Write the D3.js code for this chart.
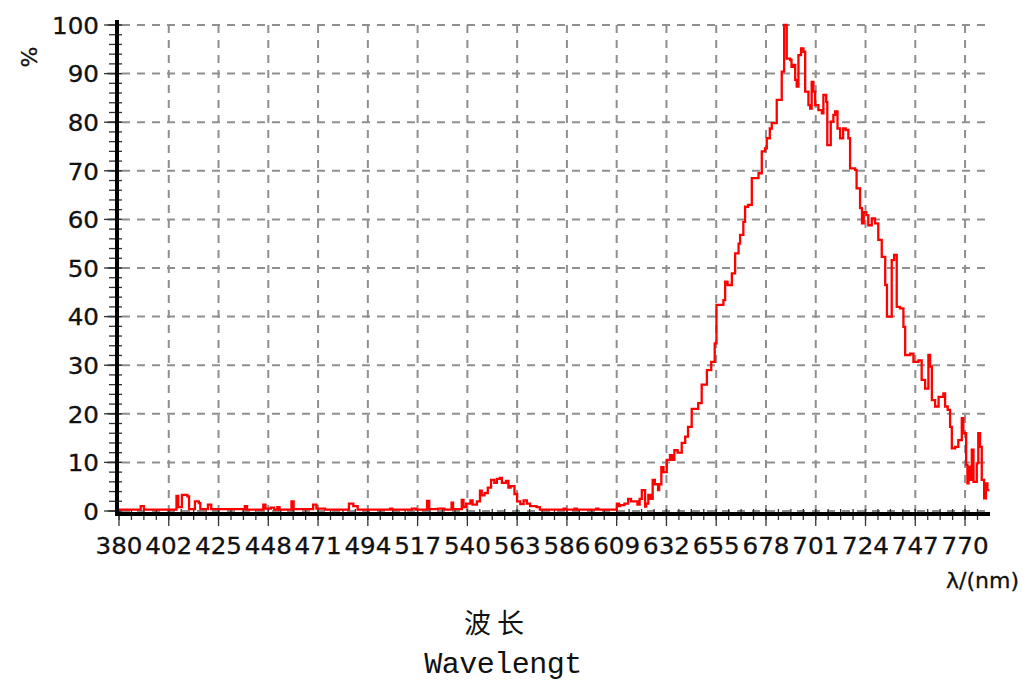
<!DOCTYPE html>
<html>
<head>
<meta charset="utf-8">
<script src="https://cdn.jsdelivr.net/npm/d3@7"></script>
<style>
  body { margin: 0; background: #fff; }
  svg { display: block; }
</style>
</head>
<body>
<svg id="chart" width="1025" height="686"></svg>
<script>
/* spectrum */
var wavelength = [380, 389, 390, 391.5, 406.5, 407.3, 409, 411.5, 412.3, 415, 416.8, 417.5, 421, 422.5,
  438, 439, 446.5, 447.5, 450, 451.5, 453, 454, 459.5, 460.5, 469.5, 471, 475, 486, 488, 490, 505, 506,
  515, 517, 522, 523, 527, 530, 533.3, 534, 538, 538.8, 540, 542, 543, 545, 546.4, 547.2, 548.5, 550,
  551.5, 553, 554.2, 555.6, 556.5, 558.4, 559.5, 560.5, 562.3, 563.5, 565, 566.5, 568, 569.5, 572.5,
  574, 585, 586, 590, 591, 600, 601, 608, 609.5, 610.5, 611, 613, 614.7, 616, 619, 620, 621, 622.5,
  623, 624, 625, 626, 627, 628.5, 629, 630, 631, 632.5, 634, 635, 636, 637.5, 639.4, 641, 642.3, 644,
  647, 648.6, 651, 653, 654.6, 655.4, 658.6, 659.4, 660.5, 662.5, 664, 665.6, 666.3, 667.8, 668.6,
  670, 671.7, 674.8, 676.3, 677.8, 678.6, 680, 680.9, 683.2, 685.5, 686.6, 687.8, 689.4, 690, 691,
  691.7, 692.4, 693.2, 694.4, 695.5, 696.3, 697.8, 698.6, 699.3, 700.1, 700.9, 702.4, 704, 704.7, 706,
  706.5, 708.1, 709.3, 710.1, 711.2, 712.4, 713.8, 715, 716.2, 717, 719.3, 720, 721.6, 722.5, 723.3,
  724.5, 725.4, 727, 728.5, 730, 731.6, 733.2, 734, 736.2, 737.3, 738.5, 740, 741.6, 742.4, 744.7,
  746.2, 748.5, 750, 751.6, 753.1, 753.9, 754.7, 756.2, 757.8, 760, 760.8, 762, 763.1, 763.9, 765.4,
  766.9, 768.5, 769.2, 770.5, 771.1, 771.6, 772.4, 773.1, 773.9, 775.4, 776.1, 776.9, 777.7, 778.8,
  779.6, 780.3, 781.2];
var percent = [0.3, 0.3, 1.0, 0.3, 3.1, 0.8, 3.3, 3.0, 0.4, 2.0, 1.6, 0.4, 1.3, 0.4,
  1.0, 0.3, 1.3, 0.5, 0.7, 0.3, 0.8, 0.3, 2.0, 0.4, 1.3, 0.5, 0.3, 1.5, 1.0, 0.3, 0.5, 0.3,
  0.5, 0.3, 2.1, 0.4, 0.5, 0.3, 1.7, 0.4, 2.3, 0.8, 1.5, 2.2, 1.3, 2.0, 4.2, 3.2, 3.7, 4.8,
  6.4, 5.8, 6.6, 6.8, 5.8, 6.2, 4.8, 5.1, 3.5, 2.0, 1.4, 2.2, 1.5, 1.0, 0.8,
  0.3, 0.5, 0.3, 0.5, 0.3, 0.5, 0.3, 0.3, 1.5, 1.0, 1.2, 1.5, 2.5, 2.0, 1.3, 2.5, 4.3, 0.9,
  1.5, 3.3, 2.5, 6.4, 5.5, 4.3, 5.5, 9.0, 8.0, 10.5, 11.5, 10.5, 12.5, 12.0, 14.0, 15.3, 17.3, 21.0,
  22.2, 26.0, 29.0, 30.7, 34.5, 42.4, 43.4, 47.2, 46.5, 48.9, 53.0, 55.0, 56.8, 59.5, 62.6,
  63.0, 68.5, 69.5, 74.0, 74.6, 76.7, 78.7, 79.8, 84.6, 90.4, 100, 93.1, 92.8, 91.4, 91.8,
  88.7, 87.3, 93.8, 95.2, 94.5, 86.3, 83.5, 82.8, 88.3, 86.3, 83.5, 82.5, 81.8, 85.6, 84.2,
  75.3, 80.1, 81.5, 82.2, 78.7, 76.7, 78.7, 78.4, 76.7, 70.5, 70.2, 66.4, 62.3, 59.2, 61.5,
  60.9, 58.8, 60.2, 59.2, 55.8, 52.3, 46.5, 40.0, 51.6, 52.7, 42.0, 41.7, 37.9, 32.1, 32.4,
  30.7, 31.0, 27.0, 25.2, 32.1, 29.7, 22.8, 21.5, 23.5, 24.2, 21.5, 20.8, 17.3, 12.9, 13.2,
  14.6, 19.1, 16.0, 9.5, 5.7, 9.1, 6.4, 12.6, 6.0, 9.8, 16.0, 13.2, 6.4, 2.6,
  5.7, 4.3, 4.3];

/* axis ticks */
var xTickLabels = ["380", "402", "425", "448", "471", "494", "517", "540", "563", "586",
  "609", "632", "655", "678", "701", "724", "747", "770"];
var yTickValues = [0, 10, 20, 30, 40, 50, 60, 70, 80, 90, 100];

var svg = d3.select("#chart");

var x = d3.scaleLinear().domain([380, 781.5]).range([119, 990]);
var y = d3.scaleLinear().domain([0, 100]).range([511, 25]);

var xStep = 390 / 17;
var xTickPos = xTickLabels.map(function(d, i) { return 380 + i * xStep; });
var xMinor = d3.range(0, 17 * 4 + 3).map(function(i) { return 380 + i * xStep / 4; })
  .filter(function(v) { return v <= 781; });
var yMinor = d3.range(0, 101, 2);

/* grid */
var grid = svg.append("g")
  .attr("stroke", "#8f8f8f")
  .attr("stroke-width", 2)
  .attr("stroke-dasharray", "8,7");

grid.selectAll("line.h").data(yTickValues.slice(1)).enter().append("line")
  .attr("class", "h")
  .attr("x1", 107).attr("x2", 990)
  .attr("y1", function(d) { return y(d); })
  .attr("y2", function(d) { return y(d); });
grid.append("line")
  .attr("x1", 107).attr("x2", 990)
  .attr("y1", y(0)).attr("y2", y(0));

grid.selectAll("line.v").data(xTickPos.slice(1)).enter().append("line")
  .attr("class", "v")
  .attr("y1", y(100)).attr("y2", y(0))
  .attr("x1", function(d) { return x(d); })
  .attr("x2", function(d) { return x(d); });

/* ticks */
var ticks = svg.append("g").attr("stroke", "#333").attr("stroke-width", 1.3);

ticks.selectAll("line.ym").data(yMinor).enter().append("line")
  .attr("x1", 109).attr("x2", 122)
  .attr("y1", function(d) { return y(d); })
  .attr("y2", function(d) { return y(d); });
ticks.selectAll("line.yM").data(yTickValues).enter().append("line")
  .attr("x1", 104).attr("x2", 122)
  .attr("y1", function(d) { return y(d); })
  .attr("y2", function(d) { return y(d); });

ticks.selectAll("line.xm").data(xMinor).enter().append("line")
  .attr("y1", 509).attr("y2", 520)
  .attr("x1", function(d) { return x(d); })
  .attr("x2", function(d) { return x(d); });
ticks.selectAll("line.xM").data(xTickPos).enter().append("line")
  .attr("y1", 509).attr("y2", 526)
  .attr("x1", function(d) { return x(d); })
  .attr("x2", function(d) { return x(d); });

/* spectrum line */
var pts = wavelength.map(function(w, i) { return [w, percent[i]]; });
var line = d3.line()
  .x(function(d) { return x(d[0]); })
  .y(function(d) { return y(d[1]); })
  .curve(d3.curveStepAfter);

svg.append("path")
  .datum(pts)
  .attr("fill", "none")
  .attr("stroke", "#ff0000")
  .attr("stroke-width", 2.3)
  .attr("d", line);

/* axis lines */
svg.append("line")
  .attr("x1", 117).attr("x2", 117)
  .attr("y1", 20).attr("y2", 516)
  .attr("stroke", "#000").attr("stroke-width", 4);
svg.append("line")
  .attr("x1", 115).attr("x2", 990)
  .attr("y1", 514).attr("y2", 514)
  .attr("stroke", "#000").attr("stroke-width", 4);

/* labels: digits in the picture are a little wider, stretch them sideways */
var font = "'DejaVu Sans', sans-serif";
var stretch = 1.07;

svg.selectAll("text.yl").data(yTickValues).enter().append("text")
  .attr("transform", function(d) {
    return "translate(99," + (y(d) + 1) + ") scale(" + stretch + ",1)";
  })
  .attr("text-anchor", "end")
  .attr("dominant-baseline", "central")
  .style("font-family", font).style("font-size", "23px").attr("fill", "#111")
  .attr("stroke", "#111").attr("stroke-width", 0.3)
  .text(function(d) { return d; });

svg.selectAll("text.xl").data(xTickLabels).enter().append("text")
  .attr("transform", function(d, i) {
    return "translate(" + x(xTickPos[i]) + ",554) scale(" + stretch + ",1)";
  })
  .attr("text-anchor", "middle")
  .style("font-family", font).style("font-size", "23px").attr("fill", "#111")
  .attr("stroke", "#111").attr("stroke-width", 0.3)
  .text(function(d) { return d; });

svg.append("text")
  .attr("transform", "translate(29,57) rotate(-90)")
  .attr("text-anchor", "middle")
  .attr("dominant-baseline", "central")
  .style("font-family", font).style("font-size", "22px").attr("fill", "#111")
  .attr("stroke", "#111").attr("stroke-width", 0.3)
  .text("%");

svg.append("text")
  .attr("x", 1019).attr("y", 588)
  .attr("text-anchor", "end")
  .style("font-family", font).style("font-size", "22px").attr("fill", "#111")
  .attr("stroke", "#111").attr("stroke-width", 0.3)
  .text("λ/(nm)");

svg.append("text")
  .attr("x", 497).attr("y", 621)
  .attr("text-anchor", "middle")
  .attr("dominant-baseline", "central")
  .style("font-family", "'Noto Sans CJK SC', sans-serif")
  .style("font-size", "27px").style("letter-spacing", "6px").attr("fill", "#111")
  .text("波长");

svg.append("text")
  .attr("x", 503).attr("y", 673)
  .attr("text-anchor", "middle")
  .style("font-family", "'Liberation Mono', monospace")
  .style("font-size", "30px").style("letter-spacing", "-0.5px").attr("fill", "#111")
  .text("Wavelengt");
</script>
</body>
</html>
